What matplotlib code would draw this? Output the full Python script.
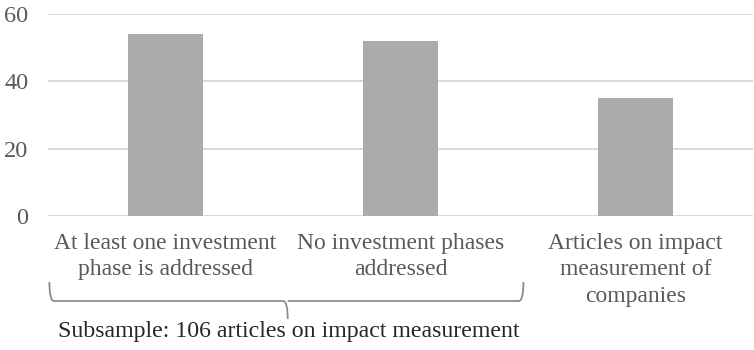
import matplotlib
matplotlib.use("Agg")
import matplotlib.pyplot as plt
from matplotlib.path import Path
from matplotlib.patches import PathPatch
from matplotlib.transforms import blended_transform_factory

categories = [
    "At least one investment\nphase is addressed",
    "No investment phases\naddressed",
    "Articles on impact\nmeasurement of\ncompanies",
]
counts = [54, 52, 35]
y_ticks = [0, 20, 40, 60]
group_label = "Subsample: 106 articles on impact measurement"

plt.rcParams["font.family"] = ["Liberation Serif", "DejaVu Serif"]
text_color = "#595959"

W, H = 754, 350
fig = plt.figure(figsize=(W / 100, H / 100), dpi=100)
ax = fig.add_axes([48 / W, 1 - 216 / H, 705 / W, 202 / H])

x = list(range(len(categories)))
ax.bar(x, counts, width=0.315, color="#ababab", zorder=3)

ax.set_xlim(-0.5, len(categories) - 0.5)
ax.set_ylim(0, 60)
ax.set_yticks(y_ticks)
ax.yaxis.grid(True, color="#d9d9d9", linewidth=1.4, zorder=0)
ax.set_axisbelow(True)
for s in ax.spines.values():
    s.set_visible(False)
ax.tick_params(axis="y", length=0, pad=14, labelsize=17.5, labelcolor=text_color)
ax.set_xticks(x)
ax.set_xticklabels(categories, fontsize=17, color=text_color, linespacing=1.32)
ax.tick_params(axis="x", length=0, pad=12.5)

# curly bracket under the first two categories
trans = blended_transform_factory(ax.transData, fig.transFigure)
def fy(p):
    return 1 - p / H
xl, xr, xm = -0.494, 1.523, 0.52
ytop, yline, ytip = fy(282), fy(301), fy(319)
r = 0.02
verts = [
    (xl, ytop), (xl, yline), (xl + r, yline),
    (xm - r, yline), (xm, yline), (xm, ytip),
    (xm, yline), (xm + r, yline),
    (xr - r, yline), (xr, yline), (xr, ytop),
]
codes = [
    Path.MOVETO, Path.CURVE3, Path.CURVE3,
    Path.LINETO, Path.CURVE3, Path.CURVE3,
    Path.MOVETO, Path.CURVE3,
    Path.LINETO, Path.CURVE3, Path.CURVE3,
]
brace = PathPatch(Path(verts, codes), transform=trans, facecolor="none",
                  edgecolor="#8c8c8c", linewidth=1.3, clip_on=False)
fig.add_artist(brace)

fig.text(289 / W, fy(331), group_label, ha="center", va="center",
         fontsize=17.2, color="#262626")

fig.savefig("out.png", dpi=100)
